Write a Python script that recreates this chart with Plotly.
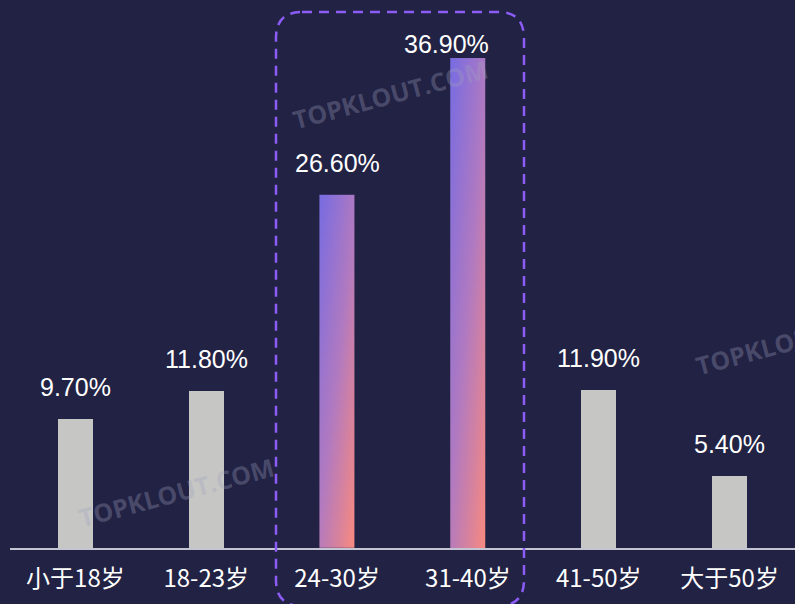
import plotly.graph_objects as go
import numpy as np

categories = ["小于18岁", "18-23岁", "24-30岁", "31-40岁", "41-50岁", "大于50岁"]
values = [9.7, 11.8, 26.6, 36.9, 11.9, 5.4]
highlight = [False, False, True, True, False, False]

W, H = 795, 604
ML, MR, MT, MB = 10, 0, 0, 56
BG = "#222244"
GRAY = "#c6c6c4"
BAR_W = 0.27
YMAX = 41.27
FONT = "Noto Sans CJK SC, Noto Sans, sans-serif"
NUMFONT = "Liberation Sans, Arial, sans-serif"

fig = go.Figure()

# gradient bars as smooth heatmaps spanning each bar's extent
NX, NY = 12, 40
for i, (v, h) in enumerate(zip(values, highlight)):
    if not h:
        continue
    xe = np.linspace(i - BAR_W / 2, i + BAR_W / 2, NX + 1)
    ye = np.linspace(0, v, NY + 1)
    xf = (np.arange(NX) + 0.5) / NX
    yf = (np.arange(NY) + 0.5) / NY
    z = 0.45 * xf[None, :] + 0.55 * (1 - yf[:, None])
    fig.add_trace(go.Heatmap(
        x=xe, y=ye, z=z, zmin=0, zmax=1, zsmooth="best", showscale=False,
        colorscale=[[0, "#786ce2"], [0.5, "#b27ac0"], [1, "#fa8a7e"]],
        hoverinfo="skip"))

fig.add_trace(go.Bar(
    x=list(range(len(categories))), y=values, width=BAR_W,
    marker=dict(color=["rgba(0,0,0,0)" if h else GRAY for h in highlight], line=dict(width=0)),
    hoverinfo="skip"))

pw = W - ML - MR
ph = H - MT - MB
def px_to_paper_x(px):
    return (px - ML) / pw
def px_to_paper_y(py):
    return (H - MB - py) / ph

# value labels: ~32px above bar top, but kept inside the top of the chart
px_per_unit = ph / YMAX
for i, v in enumerate(values):
    top_px = (H - MB) - v * px_per_unit
    center_px = max(top_px - 32, 44)
    clamped = center_px > top_px - 32
    shift = top_px - center_px
    fig.add_annotation(x=i, y=v, xref="x", yref="y", text=f"{v:.2f}%", showarrow=False,
                       xanchor="center", yanchor="middle", yshift=shift,
                       xshift=-21 if clamped else 0,
                       font=dict(color="#ffffff", size=25, family=NUMFONT))

# dashed rounded highlight frame (paper coordinates derived from layout)
x0, x1 = px_to_paper_x(276), px_to_paper_x(524)
y1, y0 = px_to_paper_y(12), px_to_paper_y(606)
rx, ry = 26 / pw, 26 / ph
path = (f"M {x0+rx} {y1} L {x1-rx} {y1} Q {x1} {y1} {x1} {y1-ry} "
        f"L {x1} {y0+ry} Q {x1} {y0} {x1-rx} {y0} "
        f"L {x0+rx} {y0} Q {x0} {y0} {x0} {y0+ry} "
        f"L {x0} {y1-ry} Q {x0} {y1} {x0+rx} {y1} Z")
fig.add_shape(type="path", path=path, xref="paper", yref="paper",
              line=dict(color="#8b5cf6", width=2.5, dash="10px,7px"))

# watermarks
for (px, py) in [(390, 94), (176, 492), (793, 340)]:
    fig.add_annotation(x=px_to_paper_x(px), y=px_to_paper_y(py), xref="paper", yref="paper",
                       xanchor="center", yanchor="middle",
                       text="<b>TOPKLOUT.COM</b>", showarrow=False, textangle=-15,
                       font=dict(size=25, color="rgba(160,160,190,0.33)", family="Open Sans, sans-serif"))

fig.update_layout(
    width=W, height=H, margin=dict(l=ML, r=MR, t=MT, b=MB),
    paper_bgcolor=BG, plot_bgcolor=BG, showlegend=False,
    bargap=0,
    xaxis=dict(range=[-0.5, len(categories) - 0.5], tickvals=list(range(len(categories))),
               ticktext=categories, showgrid=False, zeroline=False, showline=True,
               linecolor="#c4c4d2", linewidth=2, ticks="", ticklabelstandoff=8,
               tickfont=dict(color="#ffffff", size=24, family=FONT), fixedrange=True),
    yaxis=dict(range=[0, YMAX], visible=False, showgrid=False, zeroline=False),
)

fig.write_html("out.html")
